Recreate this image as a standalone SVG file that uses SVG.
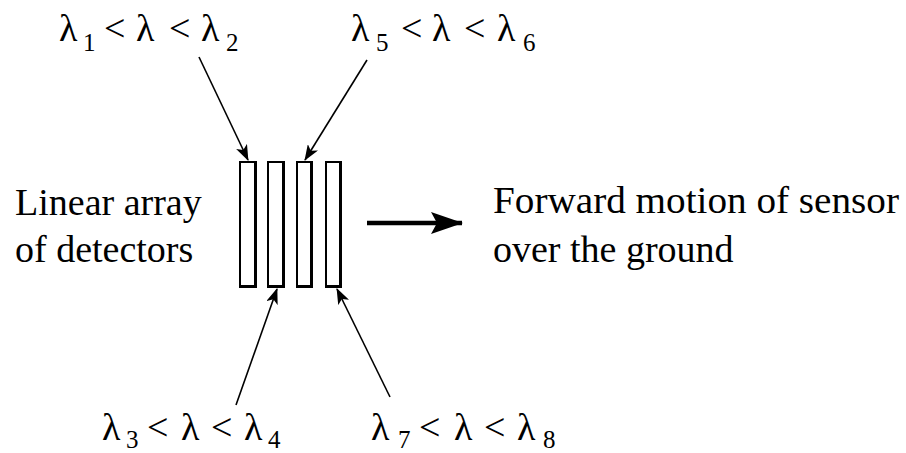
<svg xmlns="http://www.w3.org/2000/svg" width="906" height="453" viewBox="0 0 906 453">
<style>
text{font-family:'Liberation Serif','Times New Roman',serif;fill:#000;}
.t{font-size:38px;}
.s{font-size:25px;}
.det{fill:#fff;stroke:#000;stroke-width:2;}
.sh{fill:none;stroke:#000;stroke-width:2;}
.ln{stroke:#000;stroke-width:1.6;fill:none;}
</style>
<defs>
<marker id="ah" viewBox="0 0 16 12" refX="15" refY="6" markerWidth="16" markerHeight="12" markerUnits="userSpaceOnUse" orient="auto">
<path d="M0,0 L16,6 L0,12 L4,6 Z" fill="#000"/>
</marker>
<marker id="big" viewBox="0 0 32 22" refX="31" refY="11" markerWidth="32" markerHeight="22" markerUnits="userSpaceOnUse" orient="auto">
<path d="M0,0 L32,11 L0,22 L6,11 Z" fill="#000"/>
</marker>
</defs>
<g id="detectors">
<g id="det1"><rect class="det" x="240" y="162" width="16" height="125"/><polyline class="sh" points="255,163 255,286 241,286"/></g>
<g id="det2"><rect class="det" x="268" y="162" width="16" height="125"/><polyline class="sh" points="283,163 283,286 269,286"/></g>
<g id="det3"><rect class="det" x="297" y="162" width="15" height="125"/><polyline class="sh" points="311,163 311,286 298,286"/></g>
<g id="det4"><rect class="det" x="326" y="162" width="15" height="125"/><polyline class="sh" points="340,163 340,286 327,286"/></g>
</g>
<g id="label-linear">
<text class="t" x="15" y="215">Linear array</text>
<text class="t" x="15" y="262">of detectors</text>
</g>
<g id="label-forward">
<text class="t" x="493" y="213" textLength="406" lengthAdjust="spacingAndGlyphs">Forward motion of sensor</text>
<text class="t" x="493" y="262">over the ground</text>
</g>
<g id="band12">
<text class="t" y="41"><tspan x="59">λ</tspan><tspan x="104">&lt;</tspan><tspan x="136">λ</tspan><tspan x="169">&lt;</tspan><tspan x="201">λ</tspan></text>
<text class="s" x="83" y="51">1</text><text class="s" x="226" y="51">2</text>
</g>
<g id="band56">
<text class="t" y="41"><tspan x="351">λ</tspan><tspan x="401">&lt;</tspan><tspan x="432">λ</tspan><tspan x="464">&lt;</tspan><tspan x="497">λ</tspan></text>
<text class="s" x="376" y="51">5</text><text class="s" x="523" y="51">6</text>
</g>
<g id="band34">
<text class="t" y="440"><tspan x="102">λ</tspan><tspan x="147">&lt;</tspan><tspan x="181">λ</tspan><tspan x="211">&lt;</tspan><tspan x="244">λ</tspan></text>
<text class="s" x="126" y="448">3</text><text class="s" x="268" y="448">4</text>
</g>
<g id="band78">
<text class="t" y="440"><tspan x="371">λ</tspan><tspan x="419">&lt;</tspan><tspan x="454">λ</tspan><tspan x="484">&lt;</tspan><tspan x="517">λ</tspan></text>
<text class="s" x="398" y="448">7</text><text class="s" x="543" y="448">8</text>
</g>
<g id="connectors">
<line class="ln" x1="199" y1="57" x2="248" y2="160" marker-end="url(#ah)"/>
<line class="ln" x1="367" y1="60" x2="305" y2="160" marker-end="url(#ah)"/>
<line class="ln" x1="236" y1="405" x2="277" y2="289" marker-end="url(#ah)"/>
<line class="ln" x1="390" y1="397" x2="337" y2="289" marker-end="url(#ah)"/>
<line x1="367" y1="223" x2="462" y2="223" stroke="#000" stroke-width="4.5" marker-end="url(#big)"/>
</g>
</svg>
